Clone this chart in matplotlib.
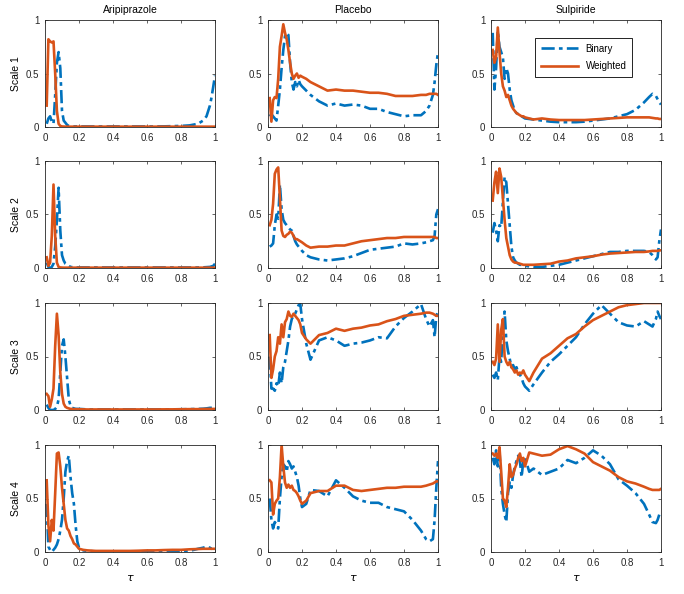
import matplotlib
matplotlib.use("Agg")
import matplotlib.pyplot as plt

plt.rcParams["font.family"] = ["Liberation Sans", "DejaVu Sans"]

TAU = [0.01, 0.02, 0.03, 0.04, 0.05, 0.06, 0.07, 0.08, 0.09, 0.10,
       0.11, 0.12, 0.13, 0.14, 0.15, 0.16, 0.17, 0.18, 0.19, 0.20,
       0.225, 0.25, 0.30, 0.35, 0.40, 0.45, 0.50, 0.55, 0.60, 0.65,
       0.70, 0.75, 0.80, 0.85, 0.90, 0.93, 0.95, 0.97, 0.98, 0.99,
       1.00]

DRUGS = ["Aripiprazole", "Placebo", "Sulpiride"]
SCALES = ["Scale 1", "Scale 2", "Scale 3", "Scale 4"]

# --- Scale 1 ---
a1_bin = [0.03, 0.08, 0.10, 0.05, 0.03, 0.30, 0.60, 0.70, 0.55, 0.15,
          0.06, 0.04, 0.02, 0.01, 0.008, 0.006, 0.005, 0.005, 0.005, 0.005,
          0.005, 0.005, 0.005, 0.005, 0.005, 0.005, 0.005, 0.005, 0.005, 0.005,
          0.006, 0.008, 0.01, 0.015, 0.03, 0.06, 0.10, 0.20, 0.28, 0.38,
          0.48]
a1_wt = [0.20, 0.82, 0.80, 0.79, 0.80, 0.50, 0.15, 0.03, 0.01, 0.005,
         0.004, 0.003, 0.003, 0.003, 0.003, 0.003, 0.003, 0.003, 0.003, 0.003,
         0.003, 0.003, 0.003, 0.003, 0.003, 0.003, 0.003, 0.003, 0.003, 0.003,
         0.003, 0.003, 0.003, 0.003, 0.003, 0.003, 0.003, 0.003, 0.003, 0.003,
         0.003]
p1_bin = [0.10, 0.12, 0.10, 0.08, 0.06, 0.20, 0.35, 0.55, 0.72, 0.85,
          0.88, 0.86, 0.60, 0.42, 0.35, 0.42, 0.38, 0.44, 0.40, 0.38,
          0.34, 0.30, 0.24, 0.20, 0.22, 0.20, 0.21, 0.20, 0.17, 0.17,
          0.14, 0.12, 0.10, 0.11, 0.11, 0.15, 0.20, 0.30, 0.42, 0.58,
          0.70]
p1_wt = [0.27, 0.05, 0.25, 0.28, 0.27, 0.45, 0.75, 0.85, 0.96, 0.88,
         0.82, 0.72, 0.60, 0.50, 0.45, 0.48, 0.50, 0.46, 0.48, 0.47,
         0.45, 0.42, 0.38, 0.34, 0.35, 0.34, 0.34, 0.33, 0.32, 0.32,
         0.31, 0.29, 0.29, 0.29, 0.30, 0.30, 0.31, 0.31, 0.31, 0.31,
         0.30]
s1_bin = [0.88, 0.35, 0.55, 0.90, 0.75, 0.70, 0.65, 0.45, 0.55, 0.50,
          0.35, 0.25, 0.20, 0.15, 0.13, 0.12, 0.11, 0.10, 0.09, 0.08,
          0.075, 0.07, 0.06, 0.05, 0.045, 0.045, 0.045, 0.05, 0.06, 0.07,
          0.08, 0.10, 0.12, 0.16, 0.23, 0.28, 0.31, 0.29, 0.26, 0.23,
          0.21]
s1_wt = [0.72, 0.60, 0.65, 0.93, 0.70, 0.50, 0.38, 0.34, 0.28, 0.30,
         0.25, 0.20, 0.17, 0.15, 0.13, 0.12, 0.11, 0.10, 0.10, 0.09,
         0.08, 0.07, 0.08, 0.07, 0.065, 0.065, 0.065, 0.065, 0.07, 0.075,
         0.08, 0.085, 0.09, 0.09, 0.09, 0.09, 0.085, 0.08, 0.08, 0.075,
         0.075]

# --- Scale 2 ---
a2_bin = [0.05, 0.01, 0.00, 0.01, 0.04, 0.20, 0.45, 0.75, 0.35, 0.12,
          0.07, 0.04, 0.03, 0.02, 0.01, 0.008, 0.006, 0.005, 0.005, 0.005,
          0.005, 0.005, 0.005, 0.005, 0.005, 0.005, 0.005, 0.005, 0.005, 0.005,
          0.005, 0.005, 0.005, 0.005, 0.005, 0.006, 0.008, 0.01, 0.015, 0.02,
          0.04]
a2_wt = [0.10, 0.02, 0.05, 0.30, 0.78, 0.30, 0.05, 0.01, 0.005, 0.004,
         0.003, 0.003, 0.003, 0.003, 0.003, 0.003, 0.003, 0.003, 0.003, 0.003,
         0.003, 0.003, 0.003, 0.003, 0.003, 0.003, 0.003, 0.003, 0.003, 0.003,
         0.003, 0.003, 0.003, 0.003, 0.003, 0.003, 0.003, 0.003, 0.003, 0.003,
         0.003]
p2_bin = [0.20, 0.21, 0.23, 0.40, 0.50, 0.46, 0.78, 0.55, 0.45, 0.42,
          0.40, 0.38, 0.36, 0.35, 0.30, 0.25, 0.22, 0.20, 0.18, 0.16,
          0.12, 0.10, 0.08, 0.07, 0.08, 0.09, 0.11, 0.14, 0.17, 0.18,
          0.19, 0.20, 0.23, 0.22, 0.23, 0.24, 0.25, 0.26, 0.30, 0.50,
          0.55]
p2_wt = [0.40, 0.45, 0.60, 0.88, 0.92, 0.94, 0.65, 0.35, 0.30, 0.29,
         0.31, 0.32, 0.34, 0.33, 0.30, 0.27, 0.27, 0.26, 0.25, 0.24,
         0.21, 0.19, 0.20, 0.20, 0.21, 0.21, 0.23, 0.25, 0.26, 0.27,
         0.28, 0.28, 0.29, 0.29, 0.29, 0.29, 0.29, 0.29, 0.29, 0.28,
         0.28]
s2_bin = [0.33, 0.42, 0.35, 0.25, 0.40, 0.38, 0.62, 0.85, 0.80, 0.60,
          0.40, 0.20, 0.10, 0.07, 0.05, 0.04, 0.03, 0.03, 0.02, 0.02,
          0.015, 0.01, 0.01, 0.02, 0.03, 0.05, 0.07, 0.09, 0.11, 0.13,
          0.15, 0.15, 0.16, 0.16, 0.16, 0.15, 0.12, 0.08, 0.10, 0.25,
          0.36]
s2_wt = [0.63, 0.80, 0.90, 0.70, 0.93, 0.85, 0.65, 0.45, 0.28, 0.20,
         0.12, 0.08, 0.06, 0.05, 0.05, 0.045, 0.04, 0.035, 0.03, 0.03,
         0.03, 0.03, 0.035, 0.04, 0.06, 0.07, 0.09, 0.10, 0.11, 0.125,
         0.135, 0.14, 0.145, 0.15, 0.15, 0.155, 0.16, 0.16, 0.16, 0.165,
         0.165]

# --- Scale 3 ---
a3_bin = [0.05, 0.02, 0.00, 0.00, 0.00, 0.01, 0.03, 0.10, 0.35, 0.60,
          0.66, 0.50, 0.30, 0.10, 0.04, 0.02, 0.015, 0.01, 0.01, 0.01,
          0.008, 0.005, 0.005, 0.005, 0.005, 0.005, 0.005, 0.005, 0.005, 0.005,
          0.005, 0.006, 0.007, 0.008, 0.01, 0.012, 0.015, 0.02, 0.02, 0.02,
          0.01]
a3_wt = [0.15, 0.13, 0.03, 0.10, 0.20, 0.60, 0.90, 0.70, 0.35, 0.15,
         0.06, 0.03, 0.02, 0.015, 0.01, 0.01, 0.008, 0.008, 0.007, 0.007,
         0.006, 0.005, 0.005, 0.005, 0.005, 0.005, 0.005, 0.005, 0.005, 0.005,
         0.006, 0.006, 0.007, 0.008, 0.008, 0.009, 0.01, 0.01, 0.01, 0.01,
         0.01]
p3_bin = [0.50, 0.20, 0.20, 0.18, 0.25, 0.22, 0.35, 0.25, 0.40, 0.45,
          0.55, 0.65, 0.78, 0.85, 0.88, 0.90, 0.94, 0.98, 0.99, 0.85,
          0.62, 0.47, 0.65, 0.68, 0.65, 0.60, 0.62, 0.63, 0.65, 0.68,
          0.67, 0.78, 0.86, 0.92, 0.99, 0.85, 0.78, 0.84, 0.68, 0.88,
          0.92]
p3_wt = [0.70, 0.30, 0.38, 0.50, 0.55, 0.68, 0.62, 0.80, 0.68, 0.82,
         0.85, 0.92, 0.88, 0.87, 0.90, 0.88, 0.86, 0.84, 0.80, 0.72,
         0.66, 0.62, 0.70, 0.72, 0.76, 0.74, 0.76, 0.77, 0.79, 0.80,
         0.83, 0.85, 0.88, 0.89, 0.90, 0.91, 0.91, 0.90, 0.89, 0.88,
         0.88]
s3_bin = [0.33, 0.30, 0.35, 0.28, 0.50, 0.45, 0.75, 0.92, 0.65, 0.55,
          0.48, 0.40, 0.42, 0.38, 0.40, 0.35, 0.33, 0.30, 0.25, 0.22,
          0.18, 0.24, 0.35, 0.45, 0.52, 0.60, 0.68, 0.80, 0.90, 0.98,
          0.90, 0.82, 0.79, 0.78, 0.83, 0.80, 0.78, 0.85, 0.92, 0.88,
          0.85]
s3_wt = [0.45, 0.42, 0.48, 0.80, 0.45, 0.75, 0.85, 0.50, 0.45, 0.42,
         0.45, 0.40, 0.38, 0.35, 0.37, 0.33, 0.35, 0.34, 0.37, 0.33,
         0.27, 0.35, 0.48, 0.53, 0.60, 0.67, 0.71, 0.78, 0.84, 0.88,
         0.92, 0.96, 0.98, 0.99, 1.00, 1.00, 1.00, 1.00, 1.00, 1.00,
         1.00]

# --- Scale 4 ---
a4_bin = [0.45, 0.05, 0.02, 0.00, 0.02, 0.04, 0.07, 0.12, 0.20, 0.30,
          0.50, 0.75, 0.85, 0.90, 0.70, 0.55, 0.45, 0.25, 0.10, 0.04,
          0.015, 0.01, 0.005, 0.00, 0.00, 0.00, 0.00, 0.00, 0.002, 0.003,
          0.004, 0.005, 0.005, 0.01, 0.03, 0.04, 0.05, 0.04, 0.03, 0.03,
          0.02]
a4_wt = [0.67, 0.25, 0.10, 0.30, 0.20, 0.55, 0.92, 0.93, 0.80, 0.60,
         0.45, 0.30, 0.22, 0.20, 0.15, 0.12, 0.08, 0.07, 0.05, 0.03,
         0.02, 0.015, 0.01, 0.01, 0.01, 0.01, 0.01, 0.012, 0.015, 0.015,
         0.018, 0.02, 0.02, 0.025, 0.028, 0.03, 0.03, 0.03, 0.03, 0.03,
         0.03]
p4_bin = [0.50, 0.30, 0.22, 0.28, 0.25, 0.22, 0.50, 0.70, 0.82, 0.80,
          0.75, 0.85, 0.82, 0.78, 0.80, 0.75, 0.70, 0.62, 0.50, 0.42,
          0.45, 0.58, 0.57, 0.52, 0.67, 0.60, 0.52, 0.48, 0.46, 0.46,
          0.42, 0.40, 0.38, 0.30, 0.20, 0.12, 0.10, 0.12, 0.30, 0.60,
          0.85]
p4_wt = [0.67, 0.65, 0.35, 0.45, 0.48, 0.50, 0.70, 1.00, 0.80, 0.65,
         0.60, 0.63, 0.60, 0.62, 0.58, 0.57, 0.55, 0.52, 0.48, 0.45,
         0.48, 0.55, 0.57, 0.57, 0.62, 0.62, 0.58, 0.57, 0.58, 0.59,
         0.60, 0.60, 0.61, 0.61, 0.61, 0.62, 0.63, 0.64, 0.65, 0.66,
         0.66]
s4_bin = [0.88, 0.82, 0.95, 0.80, 0.95, 0.60, 0.45, 0.35, 0.28, 0.55,
          0.65, 0.60, 0.72, 0.80, 0.85, 0.90, 0.85, 0.70, 0.85, 0.88,
          0.75, 0.78, 0.72, 0.75, 0.78, 0.86, 0.83, 0.88, 0.95, 0.90,
          0.82, 0.68, 0.62, 0.55, 0.45, 0.35, 0.28, 0.27, 0.30, 0.35,
          0.38]
s4_wt = [0.92, 0.90, 0.92, 0.88, 0.98, 0.75, 0.50, 0.48, 0.42, 0.60,
         0.82, 0.70, 0.72, 0.78, 0.82, 0.88, 0.92, 0.85, 0.88, 0.80,
         0.93, 0.92, 0.90, 0.91, 0.96, 0.99, 0.96, 0.92, 0.84, 0.80,
         0.76, 0.70, 0.66, 0.64, 0.61, 0.59, 0.58, 0.58, 0.58, 0.58,
         0.59]

BINARY = [[a1_bin, p1_bin, s1_bin], [a2_bin, p2_bin, s2_bin],
          [a3_bin, p3_bin, s3_bin], [a4_bin, p4_bin, s4_bin]]
WEIGHTED = [[a1_wt, p1_wt, s1_wt], [a2_wt, p2_wt, s2_wt],
            [a3_wt, p3_wt, s3_wt], [a4_wt, p4_wt, s4_wt]]

BLUE = "#0072BD"
ORANGE = "#D95319"

fig = plt.figure(figsize=(6.84, 5.94), dpi=100)
lefts = [45, 268, 491]
tops = [20, 161, 303, 445]
W, H = 170, 107

for r in range(4):
    for c in range(3):
        ax = fig.add_axes([lefts[c] / 684, 1 - (tops[r] + H) / 594, W / 684, H / 594])
        ax.plot(TAU, BINARY[r][c], color=BLUE, lw=1.9, dashes=(5, 1.6, 1.4, 1.6), label="Binary")
        ax.plot(TAU, WEIGHTED[r][c], color=ORANGE, lw=1.9, label="Weighted")
        ax.set_xlim(0, 1)
        ax.set_ylim(0, 1)
        ax.set_xticks([0, 0.2, 0.4, 0.6, 0.8, 1])
        ax.set_xticklabels(["0", "0.2", "0.4", "0.6", "0.8", "1"])
        ax.set_yticks([0, 0.5, 1])
        ax.set_yticklabels(["0", "0.5", "1"])
        ax.tick_params(direction="in", top=True, right=True, length=2.5, width=0.5,
                       labelsize=7, colors="#262626", pad=4)
        for sp in ax.spines.values():
            sp.set_linewidth(0.6)
            sp.set_color("#262626")
        if r == 0:
            ax.set_title(DRUGS[c], fontsize=7.5, pad=5)
        if c == 0:
            ax.set_ylabel(SCALES[r], fontsize=7.5, labelpad=4)
        if r == 3:
            ax.set_xlabel(r"$\tau$", fontsize=8)
        if r == 0 and c == 2:
            leg = ax.legend(loc="upper right", fontsize=7, fancybox=False, edgecolor="black",
                            framealpha=1, handlelength=3.8, borderpad=0.6, labelspacing=0.8,
                            bbox_to_anchor=(0.86, 0.88))
            leg.get_frame().set_linewidth(0.6)

fig.savefig("out.png", dpi=100)
